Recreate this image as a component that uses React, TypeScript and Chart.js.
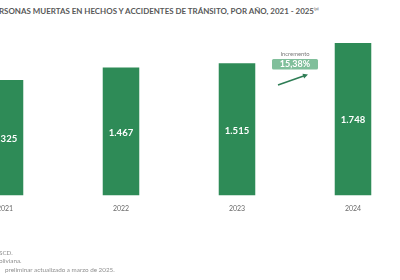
import React, { useEffect, useRef } from "react";
import { Chart, registerables } from "chart.js";

Chart.register(...registerables);

const years = ["2021", "2022", "2023", "2024"];
const deaths = [1325, 1467, 1515, 1748];
const valueLabels = ["1.325", "1.467", "1.515", "1.748"];
const incrementLabel = "Incremento";
const incrementValue = "15,38%";
const titleText = "RSONAS MUERTAS EN HECHOS Y ACCIDENTES DE TRÁNSITO, POR AÑO, 2021 - 2025";
const footnotes = ["SCD.", "oliviana.", "preliminar actualizado a marzo de 2025."];

const BAR = "#2e8b57";

const overlayPlugin = {
  id: "overlay",
  afterDatasetsDraw(chart: any) {
    const ctx = chart.ctx;
    const meta = chart.getDatasetMeta(0);
    ctx.save();
    ctx.fillStyle = "#ffffff";
    ctx.font = "bold 9.5px Lato, 'Noto Sans', sans-serif";
    ctx.textAlign = "center";
    ctx.textBaseline = "middle";
    meta.data.forEach((bar: any, i: number) => {
      const cy = (bar.y + bar.base) / 2;
      ctx.fillText(valueLabels[i], bar.x, cy + 1);
    });
    // increment annotation between 2023 and 2024
    const xs = chart.scales.x;
    const ys = chart.scales.y;
    const cx = (xs.getPixelForValue(2) + xs.getPixelForValue(3)) / 2;
    const top = ys.getPixelForValue(deaths[3]);
    ctx.fillStyle = "#7a7a7a";
    ctx.font = "5.8px Lato, 'Noto Sans', sans-serif";
    ctx.fillText(incrementLabel, cx, top + 11);
    ctx.fillStyle = "#80bf9b";
    const bw = 46, bh = 10.5;
    ctx.beginPath();
    (ctx as any).roundRect(cx - bw / 2, top + 16, bw, bh, 1.5);
    ctx.fill();
    ctx.fillStyle = "#ffffff";
    ctx.font = "bold 9px Lato, 'Noto Sans', sans-serif";
    ctx.fillText(incrementValue, cx, top + 21.5);
    // arrow
    const x1 = cx - 17, y1 = top + 42;
    const x2 = cx + 13, y2 = top + 31.5;
    ctx.strokeStyle = "#2e7d55";
    ctx.fillStyle = "#2e7d55";
    ctx.lineWidth = 1.6;
    ctx.beginPath();
    ctx.moveTo(x1, y1);
    ctx.lineTo(x2 - 3, y2 + 1);
    ctx.stroke();
    const ang = Math.atan2(y2 - y1, x2 - x1);
    ctx.beginPath();
    ctx.moveTo(x2, y2);
    ctx.lineTo(x2 - 5 * Math.cos(ang) + 2.5 * Math.sin(ang), y2 - 5 * Math.sin(ang) - 2.5 * Math.cos(ang));
    ctx.lineTo(x2 - 5 * Math.cos(ang) - 2.5 * Math.sin(ang), y2 - 5 * Math.sin(ang) + 2.5 * Math.cos(ang));
    ctx.closePath();
    ctx.fill();
    ctx.restore();
  },
};

export default function App() {
  const ref = useRef<HTMLCanvasElement | null>(null);
  useEffect(() => {
    if (!ref.current) return;
    const chart = new Chart(ref.current, {
      type: "bar",
      data: {
        labels: years,
        datasets: [
          {
            data: deaths,
            backgroundColor: BAR,
            categoryPercentage: 1,
            barPercentage: 0.315,
          },
        ],
      },
      options: {
        animation: false,
        responsive: false,
        maintainAspectRatio: false,
        layout: { padding: { top: 0, bottom: 58, left: 0, right: 0 } },
        plugins: { legend: { display: false }, tooltip: { enabled: false } },
        scales: {
          x: {
            grid: { display: false, drawTicks: false },
            border: { display: false },
            ticks: {
              color: "#6b6b6b",
              font: { size: 7, family: "Lato, 'Noto Sans', sans-serif" },
              padding: 9,
            },
          },
          y: { display: false, min: 0, max: 2240 },
        },
      },
      plugins: [overlayPlugin],
    });
    return () => chart.destroy();
  }, []);

  return (
    <div style={{ position: "fixed", left: 0, top: 0, width: 400, height: 280, overflow: "hidden", background: "#fff" }}>
      <div
        style={{
          position: "absolute",
          left: -1,
          top: 4,
          whiteSpace: "nowrap",
          fontFamily: "Lato, 'Noto Sans', sans-serif",
          fontWeight: 700,
          fontSize: 7.95,
          color: "#585858",
          lineHeight: "10px",
        }}
      >
        {titleText}
        <sup style={{ fontSize: 4.5, fontWeight: 400 }}>(p)</sup>
      </div>
      <canvas ref={ref} width={464} height={280} style={{ position: "absolute", left: -53, top: 0, width: 464, height: 280 }} />
      {footnotes.map((t, i) => (
        <div
          key={i}
          style={{
            position: "absolute",
            left: i === 2 ? 5 : -1,
            top: 249 + i * 8.3,
            whiteSpace: "nowrap",
            fontFamily: "Lato, 'Noto Sans', sans-serif",
            fontSize: 6.3,
            color: "#8f8f8f",
            lineHeight: "8px",
          }}
        >
          {t}
        </div>
      ))}
    </div>
  );
}
